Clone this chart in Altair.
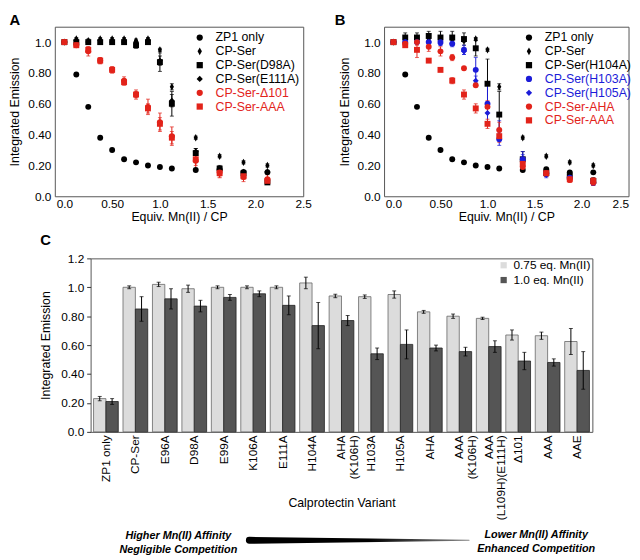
import altair as alt
import pandas as pd

FONT = "Liberation Sans"
BLACK = "#000000"
RED = "#e2231a"
BLUE = "#1c1cd8"
THIN_DIAMOND = "M0,-1.25L0.7,0L0,1.25L-0.7,0Z"

# ---------------- Panel A / B data ----------------
X_EQ = [0, 0.125, 0.25, 0.375, 0.5, 0.625, 0.75, 0.875, 1.0, 1.125, 1.375, 1.625, 1.875, 2.125]

ZP1 = [1.0, 0.79, 0.58, 0.38, 0.30, 0.24, 0.22, 0.20, 0.19, 0.18, 0.17, 0.175, 0.155, 0.155]
ZP1_ERR = [0, 0.005, 0.005, 0.005, 0.005, 0.005, 0.005, 0.005, 0.005, 0.005, 0.005, 0.005, 0.005, 0.005]
CPSER = [1.0, 1.02, 1.01, 1.02, 1.02, 1.02, 1.01, 1.02, 0.95, 0.71, 0.38, 0.26, 0.22, 0.20]
CPSER_ERR = [0, 0.01, 0.01, 0.01, 0.01, 0.01, 0.01, 0.01, 0.01, 0.02, 0.01, 0.01, 0.01, 0.01]
D98A = [1.0, 1.0, 1.0, 1.0, 1.0, 1.0, 0.98, 1.0, 0.87, 0.60, 0.28, 0.18, 0.15, 0.09]
D98A_ERR = [0, 0.01, 0.01, 0.01, 0.01, 0.01, 0.02, 0.01, 0.06, 0.08, 0.03, 0.02, 0.02, 0.01]
E111A = [1.0, 1.01, 1.0, 1.01, 1.0, 1.0, 1.0, 1.01, 0.88, 0.62, 0.29, 0.17, 0.16, 0.16]
E111A_ERR = [0, 0.01, 0.01, 0.01, 0.01, 0.01, 0.01, 0.01, 0.03, 0.04, 0.02, 0.02, 0.01, 0.01]
D101 = [1.0, 0.98, 0.94, 0.88, 0.82, 0.75, 0.66, 0.58, 0.48, 0.39, 0.23, 0.155, 0.125, 0.11]
D101_ERR = [0, 0.01, 0.03, 0.02, 0.02, 0.025, 0.03, 0.05, 0.06, 0.06, 0.06, 0.03, 0.03, 0.03]
AAA_A = [1.0, 0.98, 0.95, 0.88, 0.82, 0.74, 0.66, 0.57, 0.47, 0.38, 0.24, 0.15, 0.13, 0.10]
AAA_A_ERR = [0, 0.01, 0.02, 0.02, 0.02, 0.02, 0.02, 0.03, 0.04, 0.04, 0.04, 0.03, 0.02, 0.02]

H104A = [1.0, 1.03, 1.03, 1.04, 1.03, 1.03, 1.02, 0.96, 0.73, 0.53, 0.24, 0.15, 0.13, 0.10]
H104A_ERR = [0, 0.03, 0.03, 0.03, 0.04, 0.04, 0.04, 0.05, 0.16, 0.15, 0.05, 0.02, 0.02, 0.02]
H103A = [1.0, 1.0, 1.0, 1.0, 1.0, 0.99, 0.95, 0.82, 0.60, 0.37, 0.24, 0.15, 0.12, 0.09]
H103A_ERR = [0, 0.01, 0.01, 0.02, 0.02, 0.02, 0.03, 0.08, 0.12, 0.04, 0.05, 0.02, 0.02, 0.02]
H105A = [1.0, 1.0, 1.0, 1.0, 0.99, 0.99, 0.94, 0.75, 0.54, 0.43, 0.23, 0.14, 0.12, 0.09]
H105A_ERR = [0, 0.01, 0.01, 0.01, 0.01, 0.01, 0.02, 0.03, 0.06, 0.06, 0.04, 0.02, 0.02, 0.02]
AHA = [1.0, 0.99, 1.0, 0.97, 0.94, 0.90, 0.83, 0.72, 0.58, 0.43, 0.19, 0.15, 0.11, 0.09]
AHA_ERR = [0, 0.01, 0.02, 0.03, 0.03, 0.02, 0.01, 0.01, 0.04, 0.05, 0.03, 0.02, 0.02, 0.02]
AAA_B = [1.0, 0.98, 0.95, 0.88, 0.82, 0.75, 0.66, 0.57, 0.47, 0.39, 0.21, 0.15, 0.11, 0.10]
AAA_B_ERR = [0, 0.01, 0.05, 0.01, 0.01, 0.02, 0.03, 0.03, 0.03, 0.04, 0.03, 0.02, 0.02, 0.02]

A_NAMES = ["ZP1 only", "CP-Ser", "CP-Ser(D98A)", "CP-Ser(E111A)", "CP-Ser-\u0394101", "CP-Ser-AAA"]
A_COLORS = [BLACK, BLACK, BLACK, BLACK, RED, RED]
A_SHAPES = ["circle", THIN_DIAMOND, "square", "diamond", "circle", "square"]
A_Y = [ZP1, CPSER, D98A, E111A, D101, AAA_A]
A_ERR = [ZP1_ERR, CPSER_ERR, D98A_ERR, E111A_ERR, D101_ERR, AAA_A_ERR]

B_NAMES = ["ZP1 only", "CP-Ser", "CP-Ser(H104A)", "CP-Ser(H103A)", "CP-Ser(H105A)", "CP-Ser-AHA", "CP-Ser-AAA"]
B_COLORS = [BLACK, BLACK, BLACK, BLUE, BLUE, RED, RED]
B_SHAPES = ["circle", THIN_DIAMOND, "square", "circle", "diamond", "circle", "square"]
B_Y = [ZP1, CPSER, H104A, H103A, H105A, AHA, AAA_B]
B_ERR = [ZP1_ERR, CPSER_ERR, H104A_ERR, H103A_ERR, H105A_ERR, AHA_ERR, AAA_B_ERR]

# ---------------- Panel C data ----------------
VARIANTS = ["ZP1 only", "CP-Ser", "E96A", "D98A", "E99A", "K106A", "E111A", "H104A",
            "AHA\n(K106H)", "H103A", "H105A", "AHA", "AAA\n(K106H)", "AAA\n(L109H)(E111H)",
            "\u0394101", "AAA", "AAE"]
DOSES = ["0.75 eq. Mn(II)", "1.0 eq. Mn(II)"]
V075 = [0.23, 1.00, 1.02, 0.99, 1.00, 1.00, 1.00, 1.03, 0.94, 0.935, 0.95, 0.83, 0.80, 0.785, 0.67, 0.665, 0.625]
E075 = [0.015, 0.01, 0.015, 0.025, 0.01, 0.01, 0.01, 0.04, 0.012, 0.012, 0.025, 0.01, 0.015, 0.008, 0.035, 0.025, 0.09]
V100 = [0.21, 0.85, 0.92, 0.87, 0.93, 0.955, 0.875, 0.735, 0.77, 0.54, 0.605, 0.58, 0.555, 0.59, 0.49, 0.48, 0.425]
E100 = [0.02, 0.085, 0.07, 0.04, 0.02, 0.02, 0.065, 0.16, 0.035, 0.04, 0.10, 0.02, 0.03, 0.04, 0.06, 0.025, 0.13]

LEFT_NOTE = ["Higher Mn(II) Affinity", "Negligible Competition"]
RIGHT_NOTE = ["Lower Mn(II) Affinity", "Enhanced Competition"]
WEDGE_T = [0, 1]
WEDGE_W = [7, 1]


def long_df(names, ys, errs):
    rows = []
    for n, yv, ev in zip(names, ys, errs):
        for xv, yy, ee in zip(X_EQ, yv, ev):
            rows.append(dict(series=n, x=xv, y=yy, lo=yy - ee, hi=yy + ee))
    return pd.DataFrame(rows)


def scatter_panel(letter, names, colors, shapes, ys, errs, width, title_dx, flush):
    df = long_df(names, ys, errs)
    color = alt.Color("series:N", scale=alt.Scale(domain=names, range=colors), legend=None)
    shape = alt.Shape("series:N", scale=alt.Scale(domain=names, range=shapes), legend=None)
    xenc = alt.X("x:Q", scale=alt.Scale(domain=[-0.1, 2.5], nice=False, zero=False),
                 axis=alt.Axis(values=[0, 0.5, 1, 1.5, 2, 2.5],
                               labelExpr="datum.value == 0.5 ? '0.50' : format(datum.value, '.1f')",
                               title="Equiv. Mn(II) / CP", domain=False, ticks=False,
                               labelPadding=2, titlePadding=2, labelFlush=flush))
    yscale = alt.Scale(domain=[0, 1.1], nice=False)
    yaxis = alt.Axis(values=[0, 0.2, 0.4, 0.6, 0.8, 1.0],
                     labelExpr="datum.value == 0 ? '0.0' : (datum.value == 1 ? '1.0' : format(datum.value, '.2f'))",
                     title="Integrated Emission", domain=False, ticks=False,
                     labelPadding=4, titlePadding=6, labelFlush=False)
    base = alt.Chart(df)
    rule = base.mark_rule(strokeWidth=1).encode(
        x=xenc, y=alt.Y("lo:Q", scale=yscale, axis=yaxis), y2="hi:Q", color=color)
    cap_lo = base.mark_tick(orient="horizontal", size=4, thickness=1).encode(
        x=xenc, y=alt.Y("lo:Q", scale=yscale, axis=yaxis), color=color)
    cap_hi = base.mark_tick(orient="horizontal", size=4, thickness=1).encode(
        x=xenc, y=alt.Y("hi:Q", scale=yscale, axis=yaxis), color=color)
    pts = base.mark_point(filled=True, opacity=1, size=36).encode(
        x=xenc, y=alt.Y("y:Q", scale=yscale, axis=yaxis), color=color, shape=shape)

    n = len(names)
    leg = pd.DataFrame({"series": names, "row": list(range(n))})
    legy = alt.Y("row:Q", scale=alt.Scale(domain=[0, n - 1], range=[11, 11 + 14 * (n - 1)]), axis=None)
    leg_pts = alt.Chart(leg).mark_point(filled=True, opacity=1, size=40).encode(
        x=alt.value(147), y=legy, color=color, shape=shape)
    leg_txt = alt.Chart(leg).mark_text(align="left", baseline="middle", font=FONT, fontSize=12.5).encode(
        x=alt.value(163), y=legy, text="series:N", color=color)

    return alt.layer(
        alt.layer(rule, cap_lo, cap_hi, pts),
        alt.layer(leg_pts, leg_txt),
    ).resolve_scale(y="independent").properties(
        width=width, height=172,
        title=alt.Title(letter, anchor="start", frame="group", fontSize=15, fontWeight="bold",
                        font=FONT, offset=-1, dx=title_dx),
    )


panel_a = scatter_panel("A", A_NAMES, A_COLORS, A_SHAPES, A_Y, A_ERR, 252, -46, False)
panel_b = scatter_panel("B", B_NAMES, B_COLORS, B_SHAPES, B_Y, B_ERR, 248, -50, True)

# ---------------- Panel C ----------------
rows = []
for v, a, ea, b, eb in zip(VARIANTS, V075, E075, V100, E100):
    rows.append(dict(variant=v, dose=DOSES[0], value=a, lo=a - ea, hi=a + ea))
    rows.append(dict(variant=v, dose=DOSES[1], value=b, lo=b - eb, hi=b + eb))
dfc = pd.DataFrame(rows)

xC = alt.X("variant:N", sort=VARIANTS,
           scale=alt.Scale(paddingInner=0.16, paddingOuter=0.1),
           axis=alt.Axis(labelAngle=-90, labelExpr="split(datum.label, '\\n')",
                         title="Calprotectin Variant", ticks=False, domain=False,
                         labelPadding=3, labelFontSize=12, labelLineHeight=13,
                         titleY=72, titleBaseline="middle"))
xoffC = alt.XOffset("dose:N", sort=DOSES, scale=alt.Scale(domain=DOSES, paddingInner=0, paddingOuter=0))
yCscale = alt.Scale(domain=[0, 1.2], nice=False)
yCaxis = alt.Axis(values=[0, 0.2, 0.4, 0.6, 0.8, 1.0, 1.2],
                  labelExpr="datum.value == 0 ? '0.0' : (datum.value == 1 ? '1.0' : (datum.value == 1.2 ? '1.2' : format(datum.value, '.2f')))",
                  title="Integrated Emission", domain=False, ticks=True, tickSize=4,
                  labelPadding=3, titlePadding=8, labelFlush=False)

cbase = alt.Chart(dfc)
bars = cbase.mark_bar(strokeWidth=0.8).encode(
    x=xC, xOffset=xoffC,
    y=alt.Y("value:Q", scale=yCscale, axis=yCaxis),
    color=alt.Color("dose:N", sort=DOSES,
                    scale=alt.Scale(domain=DOSES, range=["#dcdcdc", "#555555"]),
                    legend=alt.Legend(title=None, orient="top-right", symbolType="square",
                                      symbolSize=40, symbolStrokeWidth=0, labelFontSize=12,
                                      labelFont=FONT, offset=1, padding=0, rowPadding=3)),
    stroke=alt.Stroke("dose:N", scale=alt.Scale(domain=DOSES, range=["#666666", "#222222"]), legend=None),
)
crule = cbase.mark_rule(color="black", strokeWidth=1).encode(
    x=xC, xOffset=xoffC, y=alt.Y("lo:Q", scale=yCscale, axis=yCaxis), y2="hi:Q")
ccap_lo = cbase.mark_tick(orient="horizontal", size=4, thickness=1, color="black").encode(
    x=xC, xOffset=xoffC, y=alt.Y("lo:Q", scale=yCscale, axis=yCaxis))
ccap_hi = cbase.mark_tick(orient="horizontal", size=4, thickness=1, color="black").encode(
    x=xC, xOffset=xoffC, y=alt.Y("hi:Q", scale=yCscale, axis=yCaxis))

wedge_df = pd.DataFrame({"t": WEDGE_T, "w": WEDGE_W})
grad = alt.LinearGradient(gradient="linear", x1=0, x2=1, y1=0, y2=0,
                          stops=[alt.GradientStop(color="#000000", offset=0),
                                 alt.GradientStop(color="#000000", offset=0.55),
                                 alt.GradientStop(color="#8a8a8a", offset=1)])
wedge = alt.Chart(wedge_df).mark_trail(color=grad).encode(
    x=alt.X("t:Q", scale=alt.Scale(domain=[0, 1], range=[161, 384]), axis=None),
    y=alt.value(286),
    size=alt.Size("w:Q", scale=None, legend=None),
)
note_l = alt.Chart(wedge_df).transform_filter("datum.t == 0").mark_text(
    text=LEFT_NOTE, align="center", baseline="middle", font=FONT, fontSize=11,
    fontWeight="bold", fontStyle="italic", lineHeight=14, color="black"
).encode(x=alt.value(89), y=alt.value(282))
note_r = alt.Chart(wedge_df).transform_filter("datum.t == 0").mark_text(
    text=RIGHT_NOTE, align="center", baseline="middle", font=FONT, fontSize=11,
    fontWeight="bold", fontStyle="italic", lineHeight=14, color="black"
).encode(x=alt.value(452), y=alt.value(281))

panel_c = alt.layer(
    alt.layer(bars, crule, ccap_lo, ccap_hi),
    alt.layer(wedge, note_l, note_r),
).resolve_scale(x="independent").properties(
    width=509, height=176,
    title=alt.Title("C", anchor="start", frame="group", fontSize=15, fontWeight="bold",
                    font=FONT, offset=5, dx=-51),
)

top = alt.hconcat(panel_a, panel_b, spacing=22).resolve_scale(
    color="independent", shape="independent")
chart = alt.vconcat(top, panel_c, spacing=8, center=True).resolve_scale(
    color="independent", shape="independent", stroke="independent"
).properties(padding=0).configure_view(
    stroke="#555555", strokeWidth=1
).configure_axis(
    grid=False, labelFont=FONT, titleFont=FONT, labelFontSize=12, titleFontSize=12.5,
    labelColor="black", titleColor="black", titleFontWeight="normal", tickColor="#333333"
)

chart.save("out.html", embed_options={"renderer": "svg", "actions": False})
